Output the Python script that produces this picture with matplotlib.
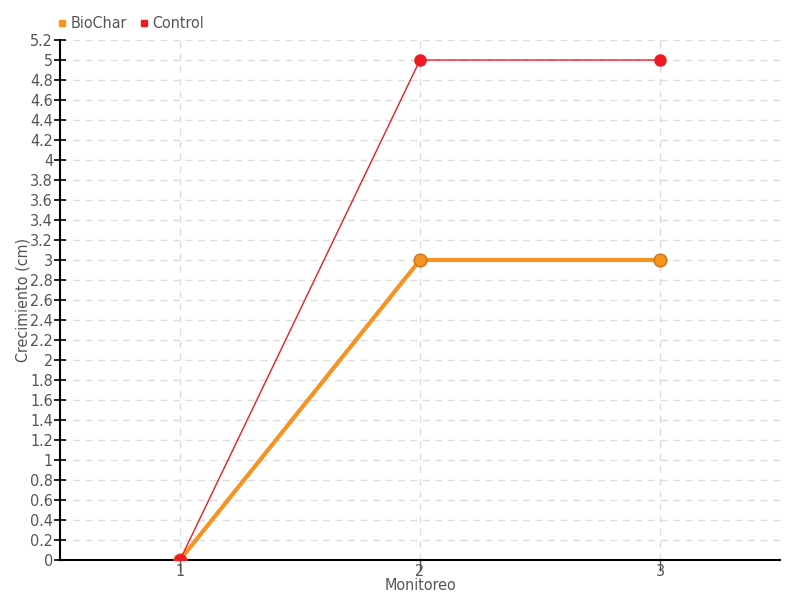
import numpy as np
import matplotlib
matplotlib.use("Agg")
import matplotlib.pyplot as plt
from matplotlib.lines import Line2D

plt.rcParams['font.family'] = ['DejaVu Sans']
plt.rcParams['font.stretch'] = 'condensed'

monitoreo = [1, 2, 3]
biochar = [0, 3, 3]
control = [0, 5, 5]
yticks = np.round(np.arange(0, 5.21, 0.2), 1)
ytick_labels = [f"{v:g}" for v in yticks]

ORANGE = "#f7931e"
RED = "#ed1c24"
GREY = "#555555"

fig = plt.figure(figsize=(8, 6), dpi=100)
ax = fig.add_axes([0.075, 0.0667, 0.9, 0.8666])

ax.plot(monitoreo, biochar, color=ORANGE, lw=3, marker="o", ms=9,
        markeredgecolor="#d2781a", markeredgewidth=1.2, zorder=3)
ax.plot(monitoreo, control, color=RED, lw=1, marker="o", ms=8,
        markeredgecolor=RED, zorder=4)

ax.set_xlim(0.5, 3.5)
ax.set_ylim(0, 5.2)
ax.set_xticks(monitoreo)
ax.set_xticklabels([str(m) for m in monitoreo])
ax.set_yticks(yticks)
ax.set_yticklabels(ytick_labels)
ax.tick_params(axis="y", direction="inout", length=8, width=1.2,
               labelsize=11.5, labelcolor=GREY, pad=1)
ax.tick_params(axis="x", direction="out", length=8, width=1,
               labelsize=11.5, labelcolor=GREY, color=GREY, pad=-5)
for s in ["top", "right"]:
    ax.spines[s].set_visible(False)
ax.spines["left"].set_linewidth(1.5)
ax.spines["bottom"].set_linewidth(1.5)
ax.grid(True, color="#dddddd", linestyle=(0, (5, 4)), lw=1)
ax.set_axisbelow(True)

ax.set_xlabel("Monitoreo", fontsize=11.5, color=GREY, labelpad=-1)
ax.set_ylabel("Crecimiento (cm)", fontsize=11.5, color=GREY, labelpad=0)

handles = [Line2D([], [], color=ORANGE, marker="s", ls="", ms=5),
           Line2D([], [], color=RED, marker="s", ls="", ms=5)]
fig.legend(handles, ["BioChar", "Control"], loc="upper left",
           bbox_to_anchor=(0.05, 0.997), ncol=2, frameon=False,
           fontsize=11.5, handletextpad=0.0, columnspacing=0.6,
           handlelength=1.0, labelcolor=GREY)

fig.savefig("out.png", dpi=100)
